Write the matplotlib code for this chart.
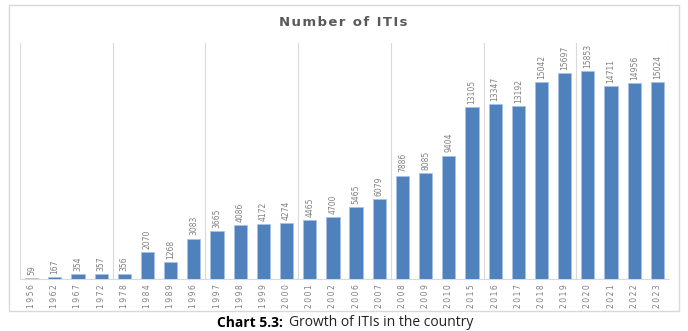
import matplotlib
matplotlib.use("Agg")
import matplotlib.pyplot as plt
from matplotlib.patches import Rectangle

years = ["1956", "1962", "1967", "1972", "1978", "1984", "1989", "1996", "1997",
         "1998", "1999", "2000", "2001", "2002", "2006", "2007", "2008", "2009",
         "2010", "2015", "2016", "2017", "2018", "2019", "2020", "2021", "2022",
         "2023"]
itis = [59, 167, 354, 357, 356, 2070, 1268, 3083, 3665, 4086, 4172, 4274, 4465,
        4700, 5465, 6079, 7886, 8085, 9404, 13105, 13347, 13192, 15042, 15697,
        15853, 14711, 14956, 15024]

fig = plt.figure(figsize=(6.88, 3.31), dpi=100)
ax = fig.add_axes([20/688, 1 - 279/331, 649/688, 236/331])

x = list(range(len(years)))
colors = ["#9DB9DE"] + ["#4F81BD"] * (len(years) - 1)
ax.bar(x, itis, width=0.57, color=colors, edgecolor="#A9C2E3", linewidth=0.6, zorder=3)

for xi, v in zip(x, itis):
    ax.text(xi, v + 250, str(v), rotation=90, ha="center", va="bottom",
            fontsize=5.5, color="#7F7F7F")

ax.set_xlim(-0.5, len(years) - 0.5)
ax.set_ylim(0, 18000)
ax.set_xticks(x)
ax.set_xticklabels(["\u2009".join(y) for y in years], rotation=90, fontsize=5.5,
                   color="#7F7F7F")
ax.tick_params(axis="x", length=0, pad=4)
ax.set_yticks([])

for b in range(0, len(years) + 1, 4):
    ax.axvline(b - 0.5, color="#D9D9D9", linewidth=0.8, zorder=0)

for s in ["top", "left", "right"]:
    ax.spines[s].set_visible(False)
ax.spines["bottom"].set_color("#D9D9D9")

fig.text(343/688, 1 - 22/331, "\u200a".join("Number of ITIs"), ha="center", va="center",
         fontsize=9.5, fontweight="bold", color="#595959")

fig.patches.append(Rectangle((9/688, 1 - 311/331), 670/688, 306/331,
                             transform=fig.transFigure, fill=False,
                             edgecolor="#D9D9D9", linewidth=1))

fig.text(217/688, 1 - 323/331, "Chart 5.3:", ha="left", va="center",
         fontsize=10, fontweight="bold", color="black", family="Open Sans")
fig.text(289/688, 1 - 323/331, "Growth of ITIs in the country", ha="left",
         va="center", fontsize=10, color="#222222", family="Open Sans")

fig.savefig("out.png", dpi=100)
